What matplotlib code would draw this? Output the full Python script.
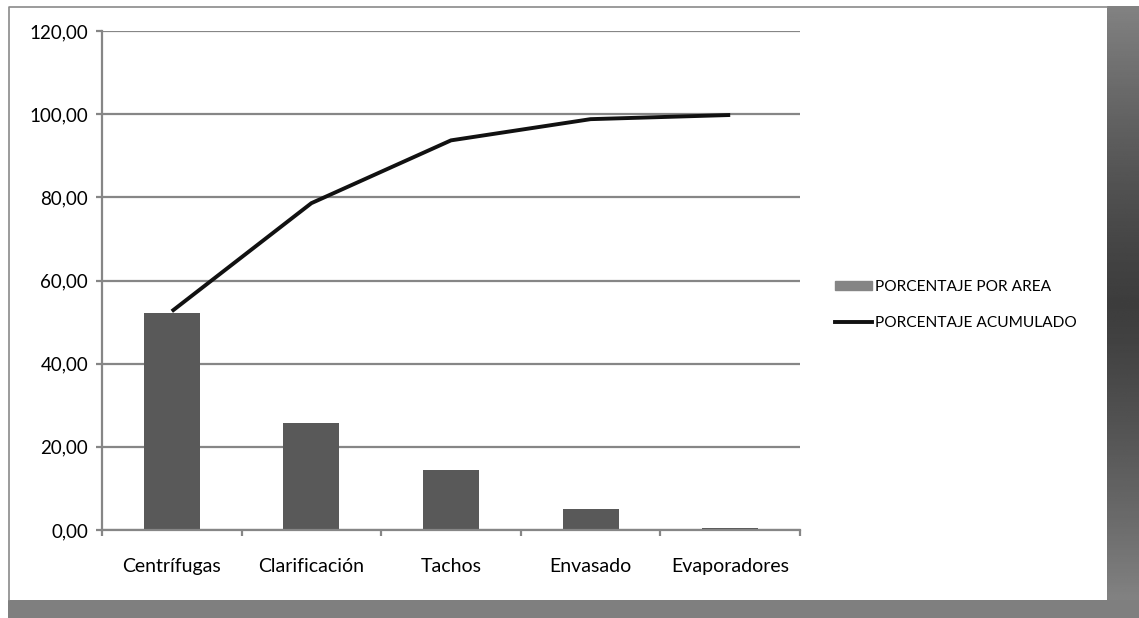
import matplotlib.pyplot as plt
import numpy as np
from matplotlib.patches import Rectangle
from matplotlib.lines import Line2D

#%% Datos
areas = ['Centrífugas', 'Clarificación', 'Tachos', 'Envasado', 'Evaporadores']
porcentaje_area = [52.3, 25.8, 14.4, 5.0, 0.6]
porcentaje_acumulado = [52.6, 78.6, 93.7, 98.8, 99.8]
yticks = [0, 20, 40, 60, 80, 100, 120]

#%% Configuración
W, H = 1139, 618
plt.rcParams['font.family'] = ['Lato', 'DejaVu Sans']
grid_color = '#868686'
bar_color = '#595959'

fig = plt.figure(figsize=(W / 100, H / 100), dpi=100)

# Fondo: marco blanco con sombra gris a la derecha y abajo
bg = fig.add_axes([0, 0, 1, 1])
bg.set_xlim(0, W)
bg.set_ylim(H, 0)
bg.axis('off')
grad = np.abs(np.linspace(-1, 1, 256)) ** 1.3
grad = 0.24 + 0.27 * grad
bg.imshow(grad[:, None], cmap='gray', vmin=0, vmax=1, aspect='auto',
          extent=(1107, W, 600, 6), interpolation='bilinear')
bg.add_patch(Rectangle((8, 600), W - 8, H - 600, color='#7f7f7f', lw=0))
bg.plot([8.5, 8.5, 1107], [600, 6.5, 6.5], color='#8a8a8a', lw=1.2)

#%% Gráfico principal
ax = fig.add_axes([102 / W, 1 - 530 / H, (800 - 102) / W, (530 - 31) / H])
ax.set_facecolor('none')
x = np.arange(len(areas))

ax.bar(x, porcentaje_area, width=0.4, color=bar_color, zorder=2)
ax.plot(x, porcentaje_acumulado, color='#111111', lw=2.8, zorder=3,
        solid_capstyle='butt', solid_joinstyle='miter')

ax.set_xlim(-0.5, len(areas) - 0.5)
ax.set_ylim(0, 120)
ax.set_yticks(yticks)
ax.set_yticklabels([f'{v:.2f}'.replace('.', ',') for v in yticks], fontsize=13.5)
ax.yaxis.grid(True, color=grid_color, lw=1.6, zorder=1)
ax.set_axisbelow(True)

# Ticks entre categorías, etiquetas centradas
ax.set_xticks(np.arange(len(areas) + 1) - 0.5)
ax.set_xticklabels([])
ax.set_xticks(x, minor=True)
ax.set_xticklabels(areas, minor=True, fontsize=14)
ax.tick_params(axis='x', which='minor', length=0, pad=20)
ax.tick_params(axis='x', which='major', length=4, width=1.6, color=grid_color)
ax.tick_params(axis='y', length=4, width=1.6, color=grid_color, pad=6)

for s in ['top', 'right']:
    ax.spines[s].set_visible(False)
for s in ['left', 'bottom']:
    ax.spines[s].set_color(grid_color)
    ax.spines[s].set_linewidth(1.6)

#%% Leyenda
handles = [Rectangle((0, 0), 1, 1, color='#858585'),
           Line2D([], [], color='#111111', lw=2.8)]
fig.legend(handles, ['PORCENTAJE POR AREA', 'PORCENTAJE ACUMULADO'],
           loc='center left', bbox_to_anchor=(821 / W, 1 - 305 / H),
           frameon=False, fontsize=11.2, handlelength=2.4, handleheight=0.55,
           handletextpad=0.2, labelspacing=1.4)

fig.savefig('out.png', dpi=100)
